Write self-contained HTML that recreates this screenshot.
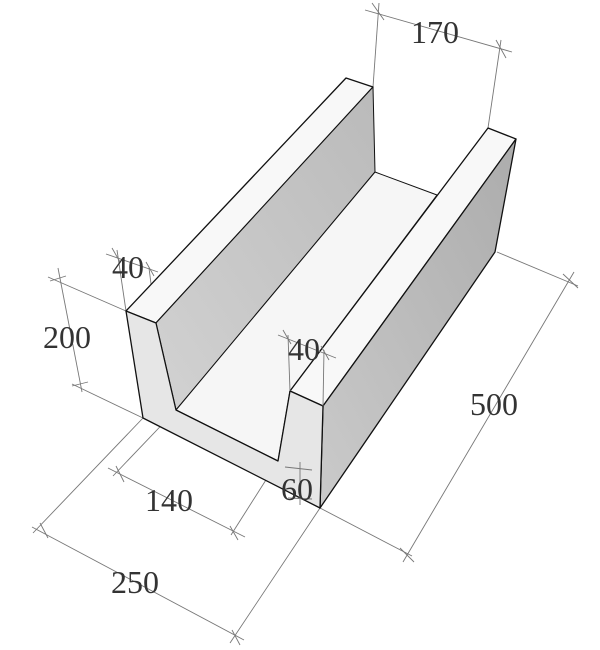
<!DOCTYPE html>
<html><head><meta charset="utf-8"><style>html,body{margin:0;padding:0;background:#fff}svg{display:block}</style></head>
<body>
<svg width="600" height="650" viewBox="0 0 600 650" xmlns="http://www.w3.org/2000/svg">
<defs>
<linearGradient id="g1" x1="0" y1="1" x2="1" y2="0"><stop offset="0" stop-color="#d2d2d2"/><stop offset="1" stop-color="#bababa"/></linearGradient>
<linearGradient id="g2" x1="0" y1="1" x2="1" y2="0"><stop offset="0" stop-color="#cacaca"/><stop offset="1" stop-color="#acacac"/></linearGradient>
</defs>
<g stroke="#777" stroke-width="0.9" fill="none">
<line x1="373" y1="87" x2="379" y2="3"/><line x1="488" y1="128" x2="501" y2="40"/>
<line x1="365" y1="10" x2="512" y2="52"/>
<line x1="372" y1="3" x2="384" y2="20"/><line x1="496" y1="40" x2="506" y2="58"/>
<line x1="497" y1="252" x2="578" y2="286"/><line x1="320" y1="508" x2="412" y2="556"/>
<line x1="574" y1="272" x2="403" y2="562"/>
<line x1="563" y1="274" x2="578" y2="288"/><line x1="400" y1="548" x2="414" y2="562"/>
<line x1="143" y1="418" x2="33" y2="533"/><line x1="320" y1="508" x2="230" y2="643"/>
<line x1="32" y1="527" x2="244" y2="640"/>
<line x1="40" y1="523" x2="48" y2="538"/><line x1="232" y1="630" x2="240" y2="645"/>
<line x1="176" y1="410" x2="113" y2="476"/><line x1="278" y1="461" x2="231" y2="535"/>
<line x1="108" y1="468" x2="245" y2="537"/>
<line x1="116" y1="466" x2="124" y2="482"/><line x1="230" y1="526" x2="238" y2="540"/>
<line x1="126" y1="311" x2="48" y2="277"/><line x1="143" y1="418" x2="72" y2="384"/>
<line x1="58" y1="268" x2="82" y2="392"/>
<line x1="50" y1="281" x2="66" y2="276"/><line x1="72" y1="386" x2="88" y2="382"/>
<line x1="126" y1="311" x2="117" y2="250"/><line x1="156" y1="323" x2="149" y2="268"/>
<line x1="106" y1="254" x2="158" y2="272"/>
<line x1="112" y1="248" x2="120" y2="262"/><line x1="146" y1="262" x2="154" y2="276"/>
</g>
<g stroke="#111" stroke-width="1.3" stroke-linejoin="round">
<polygon points="126,311 156,323 373,87 346,78" fill="#f8f8f8"/>
<polygon points="156,323 176,410 375,172 373,87" fill="url(#g1)" stroke-width="1"/>
<polygon points="176,410 278,461 290,391 437,195 375,172" fill="#f6f6f6" stroke-width="1"/>
<polygon points="290,391 323,406 516,139 488,128" fill="#f8f8f8"/>
<polygon points="323,406 320,508 495,252 516,139" fill="url(#g2)"/>
<polygon points="126,311 156,323 176,410 278,461 290,391 323,406 320,508 143,418" fill="#e6e6e6"/>
</g>
<g stroke="#777" stroke-width="0.9" fill="none">
<line x1="290" y1="391" x2="288" y2="335"/><line x1="323" y1="406" x2="324" y2="350"/>
<line x1="278" y1="335" x2="336" y2="358"/>
<line x1="283" y1="330" x2="291" y2="344"/><line x1="321" y1="346" x2="329" y2="360"/>
<line x1="285" y1="467" x2="312" y2="470"/><line x1="288" y1="498" x2="312" y2="499"/>
<line x1="300" y1="462" x2="300" y2="505"/>
</g>
<g font-family="'Liberation Serif',serif" font-size="32" fill="#333">
<text x="411" y="43">170</text>
<text x="470" y="415">500</text>
<text x="112" y="278">40</text>
<text x="43" y="348">200</text>
<text x="288" y="360">40</text>
<text x="281" y="500">60</text>
<text x="145" y="511">140</text>
<text x="111" y="593">250</text>
</g>
</svg>
</body></html>
